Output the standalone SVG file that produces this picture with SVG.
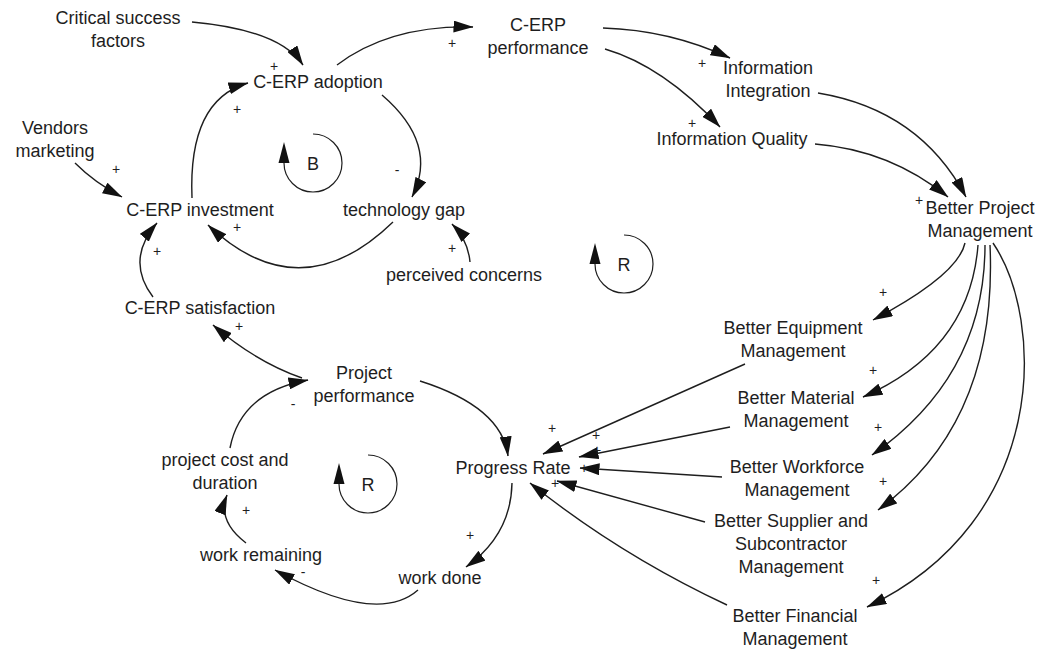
<svg xmlns="http://www.w3.org/2000/svg" width="1042" height="650" viewBox="0 0 1042 650">
  <defs>
    <style>
      .lbl { font-family: "Liberation Sans", Arial, sans-serif; font-size: 18px; fill: #1e1e1e; text-anchor: middle; }
      .pol { font-family: "Liberation Sans", Arial, sans-serif; font-size: 14px; fill: #1e1e1e; text-anchor: middle; }
      .link { fill: none; stroke: #1e1e1e; stroke-width: 1.4; marker-end: url(#ah); }
      .loop { fill: none; stroke: #1e1e1e; stroke-width: 1.2; }
      .head { fill: #111; }
    </style>
    <marker id="ah" markerWidth="20" markerHeight="12" refX="19.5" refY="6" orient="auto" markerUnits="userSpaceOnUse">
      <path d="M0,0 L20,6 L0,12 z" fill="#111"/>
    </marker>
  </defs>
  <rect width="1042" height="650" fill="#ffffff"/>

  <!-- causal links -->
  <g id="connectors">
    <path class="link" d="M192,22 Q280,30 303,65"/>
    <path class="link" d="M192,198 Q188,100 248,83"/>
    <path class="link" d="M382,95 Q439,144 412,197"/>
    <path class="link" d="M393,222 Q300,312 208,225"/>
    <path class="link" d="M75,163 Q95,183 122,197"/>
    <path class="link" d="M153,297 Q125,260 157,223"/>
    <path class="link" d="M470,262 Q468,240 452,224"/>
    <path class="link" d="M337,65 Q390,25 473,27"/>
    <path class="link" d="M603,28 Q670,30 730,58"/>
    <path class="link" d="M605,49 Q663,66 720,127"/>
    <path class="link" d="M818,93 Q920,110 966,197"/>
    <path class="link" d="M815,144 Q890,150 948,197"/>
    <path class="link" d="M965,243 Q958,275 873,320"/>
    <path class="link" d="M978,245 Q970,350 863,397"/>
    <path class="link" d="M985,245 Q985,376 872,455"/>
    <path class="link" d="M990,245 Q998,422 878,510"/>
    <path class="link" d="M993,243 C1045,320 1050,520 867,607"/>
    <path class="link" d="M745,364 L543,454"/>
    <path class="link" d="M730,427 L579,457"/>
    <path class="link" d="M722,477 L580,468"/>
    <path class="link" d="M705,522 L557,481"/>
    <path class="link" d="M727,605 Q620,555 530,483"/>
    <path class="link" d="M420,381 Q502,407 508,456"/>
    <path class="link" d="M512,483 Q511,535 466,567"/>
    <path class="link" d="M418,590 Q377,626 275,570"/>
    <path class="link" d="M246,543 Q217,521 227,495"/>
    <path class="link" d="M230,448 Q241,392 308,380"/>
    <path class="link" d="M302,378 Q256,362 213,325"/>
  </g>

  <!-- link polarities -->
  <g id="polarities">
    <text class="pol" x="274" y="71">+</text>
    <text class="pol" x="237" y="114">+</text>
    <text class="pol" x="397" y="175">-</text>
    <text class="pol" x="237" y="232">+</text>
    <text class="pol" x="116" y="174">+</text>
    <text class="pol" x="157" y="256">+</text>
    <text class="pol" x="452" y="253">+</text>
    <text class="pol" x="452" y="48">+</text>
    <text class="pol" x="702" y="68">+</text>
    <text class="pol" x="692" y="128">+</text>
    <text class="pol" x="919" y="205">+</text>
    <text class="pol" x="883" y="297">+</text>
    <text class="pol" x="873" y="375">+</text>
    <text class="pol" x="878" y="432">+</text>
    <text class="pol" x="883" y="486">+</text>
    <text class="pol" x="876" y="585">+</text>
    <text class="pol" x="552" y="433">+</text>
    <text class="pol" x="596" y="440">+</text>
    <text class="pol" x="597" y="455">+</text>
    <text class="pol" x="584" y="473">+</text>
    <text class="pol" x="555" y="488">+</text>
    <text class="pol" x="470" y="540">+</text>
    <text class="pol" x="303" y="577">-</text>
    <text class="pol" x="246" y="515">+</text>
    <text class="pol" x="293" y="409">-</text>
    <text class="pol" x="239" y="331">+</text>
  </g>

  <!-- loop identifiers -->
  <g id="loop-B">
    <path class="loop" d="M313,134 A29,29 0 1 1 284,163"/>
    <polygon class="head" points="284,142 278.5,163 289.5,163"/>
    <text class="lbl" x="313" y="170">B</text>
  </g>
  <g id="loop-R1">
    <path class="loop" d="M624,235 A29,29 0 1 1 595,264"/>
    <polygon class="head" points="595,243 589.5,264 600.5,264"/>
    <text class="lbl" x="624" y="271">R</text>
  </g>
  <g id="loop-R2">
    <path class="loop" d="M368,455 A29,29 0 1 1 339,484"/>
    <polygon class="head" points="339,463 333.5,484 344.5,484"/>
    <text class="lbl" x="368" y="491">R</text>
  </g>

  <!-- variables -->
  <g id="critical-success-factors"><text class="lbl" x="118" y="24">Critical success</text><text class="lbl" x="118" y="47">factors</text></g>
  <g id="cerp-adoption"><text class="lbl" x="318" y="88">C-ERP adoption</text></g>
  <g id="vendors-marketing"><text class="lbl" x="55" y="134">Vendors</text><text class="lbl" x="55" y="157">marketing</text></g>
  <g id="cerp-investment"><text class="lbl" x="200" y="216">C-ERP investment</text></g>
  <g id="technology-gap"><text class="lbl" x="404" y="216">technology gap</text></g>
  <g id="cerp-satisfaction"><text class="lbl" x="200" y="314">C-ERP satisfaction</text></g>
  <g id="perceived-concerns"><text class="lbl" x="464" y="281">perceived concerns</text></g>
  <g id="cerp-performance"><text class="lbl" x="538" y="31">C-ERP</text><text class="lbl" x="538" y="54">performance</text></g>
  <g id="information-integration"><text class="lbl" x="768" y="74">Information</text><text class="lbl" x="768" y="97">Integration</text></g>
  <g id="information-quality"><text class="lbl" x="732" y="145">Information Quality</text></g>
  <g id="better-project-management"><text class="lbl" x="980" y="214">Better Project</text><text class="lbl" x="980" y="237">Management</text></g>
  <g id="better-equipment-management"><text class="lbl" x="793" y="334">Better Equipment</text><text class="lbl" x="793" y="357">Management</text></g>
  <g id="better-material-management"><text class="lbl" x="796" y="404">Better Material</text><text class="lbl" x="796" y="427">Management</text></g>
  <g id="better-workforce-management"><text class="lbl" x="797" y="473">Better Workforce</text><text class="lbl" x="797" y="496">Management</text></g>
  <g id="better-supplier-management"><text class="lbl" x="791" y="527">Better Supplier and</text><text class="lbl" x="791" y="550">Subcontractor</text><text class="lbl" x="791" y="573">Management</text></g>
  <g id="better-financial-management"><text class="lbl" x="795" y="622">Better Financial</text><text class="lbl" x="795" y="645">Management</text></g>
  <g id="progress-rate"><text class="lbl" x="513" y="474">Progress Rate</text></g>
  <g id="project-performance"><text class="lbl" x="364" y="379">Project</text><text class="lbl" x="364" y="402">performance</text></g>
  <g id="project-cost-duration"><text class="lbl" x="225" y="466">project cost and</text><text class="lbl" x="225" y="489">duration</text></g>
  <g id="work-remaining"><text class="lbl" x="261" y="561">work remaining</text></g>
  <g id="work-done"><text class="lbl" x="440" y="584">work done</text></g>
</svg>
